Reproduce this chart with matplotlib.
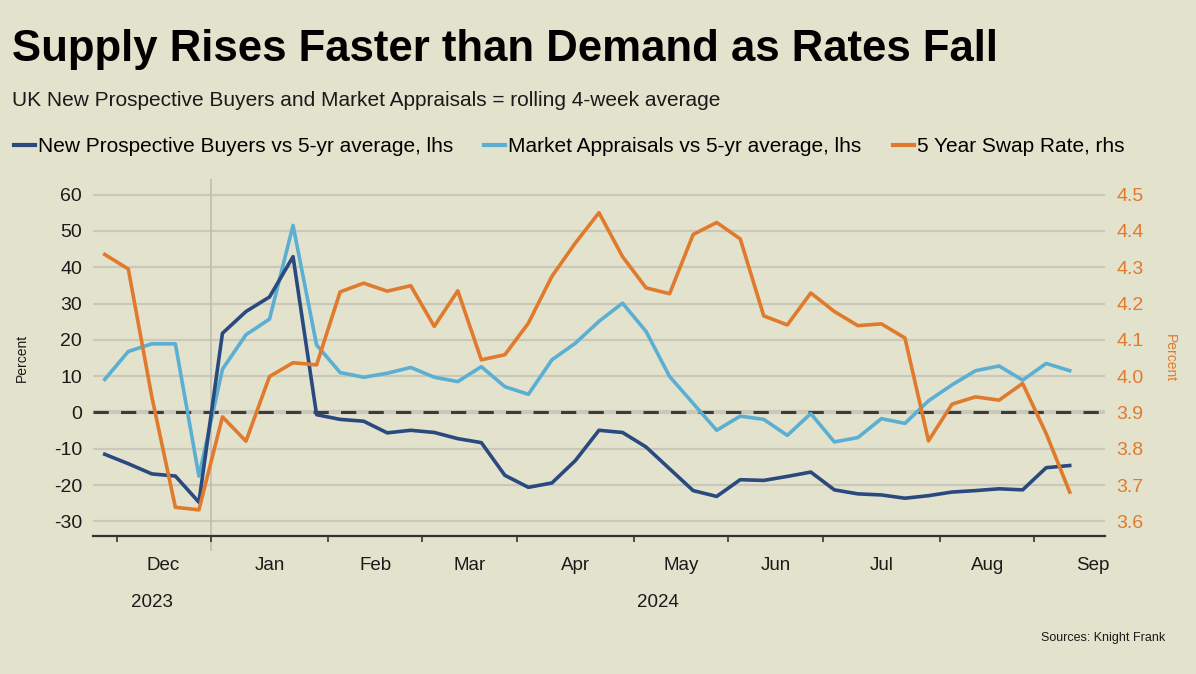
import numpy as np
import matplotlib
matplotlib.use('Agg')
import matplotlib.pyplot as plt

# weekly points, Nov 2023 - Sep 2024
buyers = [-11.5, -14.1, -16.9, -17.5, -24.7, 21.8, 27.8, 31.8, 42.9, -0.6,
          -1.9, -2.4, -5.6, -4.9, -5.5, -7.2, -8.3, -17.3, -20.6, -19.4,
          -13.2, -4.9, -5.5, -9.5, -15.5, -21.5, -23.1, -18.5, -18.7, -17.6,
          -16.4, -21.3, -22.4, -22.7, -23.6, -22.9, -21.9, -21.5, -21.0, -21.3,
          -15.2, -14.6]
appraisals = [9.1, 16.8, 18.9, 18.9, -17.5, 11.9, 21.4, 25.7, 51.5, 18.6,
              11.0, 9.7, 10.8, 12.4, 9.7, 8.5, 12.6, 7.1, 5.0, 14.5,
              19.1, 25.1, 30.1, 22.3, 9.9, 2.5, -4.9, -1.0, -1.9, -6.3,
              -0.3, -8.1, -6.9, -1.7, -3.0, 3.2, 7.6, 11.5, 12.8, 8.9,
              13.5, 11.5]
swap = [4.335, 4.295, 3.943, 3.639, 3.632, 3.888, 3.821, 3.999, 4.037, 4.031,
        4.232, 4.256, 4.234, 4.249, 4.137, 4.235, 4.045, 4.059, 4.146, 4.275,
        4.367, 4.450, 4.329, 4.243, 4.227, 4.390, 4.423, 4.378, 4.166, 4.141,
        4.229, 4.178, 4.139, 4.144, 4.105, 3.822, 3.923, 3.943, 3.934, 3.980,
        3.842, 3.681]

months = ['Dec', 'Jan', 'Feb', 'Mar', 'Apr', 'May', 'Jun', 'Jul', 'Aug', 'Sep']
month_pos = [2.5, 7, 11.5, 15.5, 20, 24.5, 28.5, 33, 37.5, 42]
years = ['2023', '2024']
year_pos = [2, 23.5]
month_ticks = [0.5, 4.5, 9.5, 13.5, 17.5, 22.5, 26.5, 30.5, 35.5, 39.5]

bg = '#E3E2CD'
dark = '#2A4A7F'
light = '#5BAFD3'
orange = '#E07A2C'
txt = '#1a1a1a'

plt.rcParams['font.family'] = ['Liberation Sans', 'DejaVu Sans']
plt.rcParams['axes.unicode_minus'] = False

f = plt.figure(figsize=(11.96, 6.74), dpi=100, facecolor=bg)
ax = f.add_axes([93/1196, 1-536/674, (1105-93)/1196, (536-180)/674])
ax.set_facecolor(bg)
x = np.arange(len(buyers))

ax.set_xlim(-0.5, 42.5)
ax.set_ylim(-34, 64)
ax.set_yticks(range(-30, 61, 10))
for v in range(-30, 61, 10):
    if v != 0:
        ax.axhline(v, color='#C9C8BA', lw=1.6, zorder=1)
ax.axhline(0, color='#C9C8BA', lw=3, zorder=1)
ax.axhline(0, color='#3c3c3c', lw=2.2, dashes=(5, 4), zorder=2)
ax.axvline(4.5, ymin=-0.04, ymax=1, color='#BDBDB2', lw=1.2, clip_on=False, zorder=1)

ax.plot(x, appraisals, color=light, lw=2.6, zorder=4)
ax.plot(x, buyers, color=dark, lw=2.6, zorder=5)

for s in ['top', 'left', 'right']:
    ax.spines[s].set_visible(False)
ax.spines['bottom'].set_color('#333333')
ax.spines['bottom'].set_linewidth(1.6)
ax.set_xticks(month_ticks)
ax.set_xticklabels([])
ax.tick_params(axis='x', length=4, width=1.2, color='#333333')
ax.tick_params(axis='y', length=0, labelsize=14, labelcolor=txt, pad=8)
for m, p in zip(months, month_pos):
    ax.text(p, -42.2, m, ha='center', va='center', fontsize=13.5, color=txt)
for yr, p in zip(years, year_pos):
    ax.text(p, -52.3, yr, ha='center', va='center', fontsize=13.5, color=txt)
ax.set_ylabel('Percent', fontsize=10, color=txt, labelpad=18)

ax2 = ax.twinx()
ax2.set_ylim(3.56, 4.54)
ax2.set_yticks([3.6, 3.7, 3.8, 3.9, 4.0, 4.1, 4.2, 4.3, 4.4, 4.5])
ax2.set_yticklabels(['3.6', '3.7', '3.8', '3.9', '4.0', '4.1', '4.2', '4.3', '4.4', '4.5'])
ax2.plot(x, swap, color=orange, lw=2.6, zorder=3)
for s in ['top', 'left', 'right', 'bottom']:
    ax2.spines[s].set_visible(False)
ax2.tick_params(axis='y', length=0, labelsize=14, labelcolor=orange, pad=8)
ax2.set_ylabel('Percent', fontsize=10, color=orange, rotation=-90, labelpad=24)

# header
f.text(12/1196, 1-50/674, 'Supply Rises Faster than Demand as Rates Fall',
       fontsize=31.5, fontweight='bold', va='center', ha='left', color='black')
f.text(12/1196, 1-101/674, 'UK New Prospective Buyers and Market Appraisals = rolling 4-week average',
       fontsize=15, va='center', ha='left', color=txt)

h1, = ax.plot([], [], color=dark, lw=3)
h2, = ax.plot([], [], color=light, lw=3)
h3, = ax.plot([], [], color=orange, lw=3)
f.legend([h1, h2, h3],
         ['New Prospective Buyers vs 5-yr average, lhs',
          'Market Appraisals vs 5-yr average, lhs',
          '5 Year Swap Rate, rhs'],
         loc='center left', bbox_to_anchor=(14/1196, 1-147/674), ncol=3,
         frameon=False, fontsize=15, handlelength=1.0, handletextpad=0.15,
         columnspacing=1.5, borderaxespad=0, borderpad=0)

f.text(1165/1196, 1-638/674, 'Sources: Knight Frank', fontsize=9, ha='right',
       va='center', color=txt)

plt.savefig('out.png', dpi=100, facecolor=bg)
